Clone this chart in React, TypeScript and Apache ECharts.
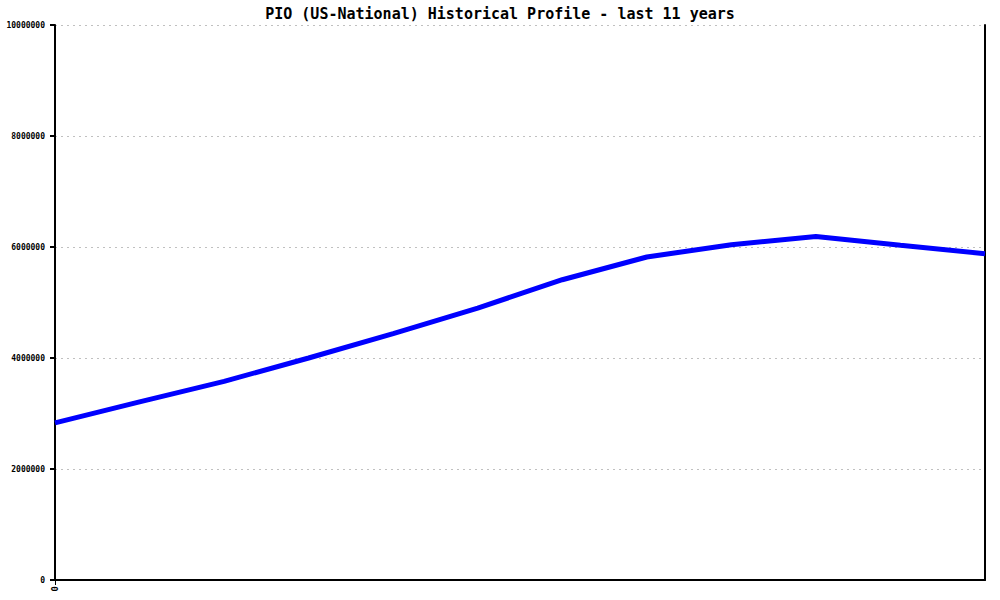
import React, { useEffect, useRef } from "react";
import * as echarts from "echarts";

const TITLE = "PIO (US-National) Historical Profile - last 11 years";
const years = ["0", "1", "2", "3", "4", "5", "6", "7", "8", "9", "10", "11"];
const values = [2830000, 3210000, 3580000, 4000000, 4440000, 4900000, 5410000, 5820000, 6040000, 6190000, 6030000, 5880000];
const yTicks = { min: 0, max: 10000000, interval: 2000000 };

export default function App() {
  const ref = useRef<HTMLDivElement>(null);
  useEffect(() => {
    if (!ref.current) return;
    const chart = echarts.init(ref.current, null, { renderer: "svg" });
    const mono = "'DejaVu Sans Mono', 'Liberation Mono', monospace";
    chart.setOption({
      animation: false,
      backgroundColor: "#ffffff",
      title: {
        text: TITLE,
        left: "center",
        top: 1,
        textStyle: { fontFamily: mono, fontSize: 15, fontWeight: "bold", color: "#000" },
      },
      grid: { left: 55, right: 15, top: 25, bottom: 20, containLabel: false, outerBoundsMode: "none" },
      xAxis: {
        type: "category",
        data: years,
        boundaryGap: false,
        axisLine: { show: true, lineStyle: { color: "#000", width: 2 } },
        axisTick: { show: true, length: 5, interval: (i: number) => i === 0, lineStyle: { color: "#000", width: 1 } },
        axisLabel: {
          interval: (i: number) => i === 0,
          rotate: 90,
          margin: 6,
          fontFamily: mono,
          fontSize: 9,
          fontWeight: "bold",
          color: "#000",
        },
        splitLine: { show: false },
      },
      yAxis: [
        {
          type: "value",
          min: yTicks.min,
          max: yTicks.max,
          interval: yTicks.interval,
          axisLine: { show: true, lineStyle: { color: "#000", width: 2 } },
          axisTick: { show: true, length: 5, lineStyle: { color: "#000", width: 2 } },
          axisLabel: {
            margin: 10,
            fontFamily: mono,
            fontSize: 8,
            fontWeight: "bold",
            color: "#000",
            formatter: (v: number) => String(v),
          },
          splitLine: { show: true, lineStyle: { color: "#c0c0c0", width: 1, type: [2, 4] } },
        },
        {
          type: "value",
          position: "right",
          min: yTicks.min,
          max: yTicks.max,
          interval: yTicks.interval,
          axisLine: { show: true, lineStyle: { color: "#000", width: 2 } },
          axisTick: { show: false },
          axisLabel: { show: false },
          splitLine: { show: false },
        },
      ],
      series: [
        {
          type: "line",
          data: values,
          showSymbol: false,
          symbol: "none",
          smooth: false,
          lineStyle: { color: "#0000ff", width: 5 },
          itemStyle: { color: "#0000ff" },
        },
      ],
    });
    return () => chart.dispose();
  }, []);
  return <div ref={ref} style={{ width: 1000, height: 600, position: "absolute", left: 0, top: 0 }} />;
}
